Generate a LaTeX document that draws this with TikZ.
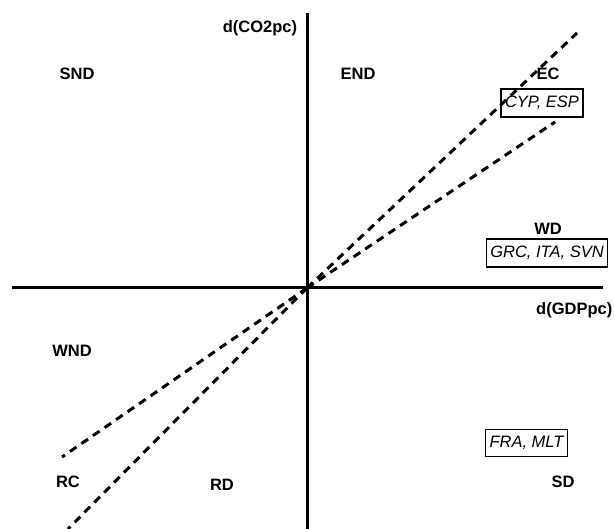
\documentclass[tikz,border=0pt]{standalone}
\usepackage{fontspec}
\setmainfont{Liberation Sans}
\begin{document}
\begin{tikzpicture}[x=1pt,y=-1pt,
  lab/.style={font=\fontsize{16.5}{19}\selectfont\bfseries, inner sep=0pt},
  grp/.style={draw, line width=1.4pt, font=\fontsize{16.5}{19}\selectfont\itshape, inner xsep=4pt, inner ysep=7pt},
  axis/.style={line width=3pt},
  trend/.style={line width=3pt, dash pattern=on 8pt off 6pt}]
\useasboundingbox (0,0) rectangle (614,529);
\coordinate (O) at (307,288);
\coordinate (xl) at (12,288);
\coordinate (xr) at (603,288);
\coordinate (yt) at (307,13);
\coordinate (yb) at (307,529);
\draw[axis] (xl) -- (xr);
\draw[axis] (yt) -- (yb);
\coordinate (s1) at (577,33);
\coordinate (s2) at (68,529);
\coordinate (f1) at (555,122);
\coordinate (f2) at (62,457);
\draw[trend] (O) -- (s1);
\draw[trend] (O) -- (s2);
\draw[trend] (O) -- (f1);
\draw[trend] (O) -- (f2);
\node[lab] (ylab) at (260,28) {d(CO2pc)};
\node[lab, anchor=east] (xlab) at (612.5,310) {d(GDPpc)};
\node[lab] (snd) at (77,74) {SND};
\node[lab] (endq) at (358,74) {END};
\node[lab] (ec) at (548,74) {EC};
\node[grp] (cyp) at (542,103) {CYP, ESP};
\node[lab] (wd) at (548,229) {WD};
\node[grp] (grc) at (547,253) {GRC, ITA, SVN};
\node[lab] (wnd) at (72,351) {WND};
\node[lab] (rc) at (68,482) {RC};
\node[lab] (rd) at (222,485) {RD};
\node[grp] (fra) at (526.5,443) {FRA, MLT};
\node[lab] (sd) at (563,482) {SD};
\end{tikzpicture}
\end{document}
